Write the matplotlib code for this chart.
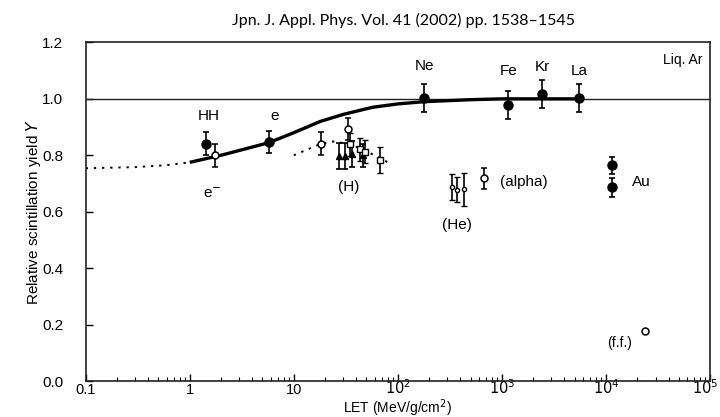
import numpy as np
import matplotlib.pyplot as plt
import matplotlib.transforms as mtransforms
from matplotlib.ticker import LogLocator, NullFormatter, FixedLocator

plt.rcParams['font.family'] = ['Liberation Sans', 'DejaVu Sans']

# ---- data ----
# heavy ions / e / HH (filled circles)
filled_x = [1.42, 5.8, 179, 1150, 2440, 5500, 11500, 11500]
filled_y = [0.841, 0.847, 1.004, 0.977, 1.016, 1.004, 0.765, 0.686]
filled_err = [0.04, 0.04, 0.05, 0.05, 0.05, 0.05, 0.03, 0.035]

# open circles (e-, H, alpha, f.f.)
open_x = [1.74, 18.4, 33.3, 676, 24000]
open_y = [0.80, 0.841, 0.893, 0.719, 0.176]
open_err = [0.04, 0.04, 0.04, 0.037, 0.0]

# proton triangles
tri_x = [27.3, 31.0, 36.6, 46.0]
tri_y = [0.798, 0.798, 0.805, 0.80]
tri_err = [0.045, 0.045, 0.045, 0.04]

# proton squares
sq_x = [35.0, 43.0, 48.0, 67.0]
sq_y = [0.839, 0.821, 0.813, 0.783]
sq_err = [0.04, 0.04, 0.04, 0.045]

# helium (small open circles)
he_x = [333, 372, 437]
he_y = [0.688, 0.678, 0.679]
he_err = [0.045, 0.045, 0.058]

# model curves
curve_x = [1, 2, 5.8, 10, 18, 30, 57, 100, 180, 500, 1000, 5500]
curve_y = [0.775, 0.80, 0.845, 0.88, 0.92, 0.945, 0.97, 0.982, 0.99, 0.997, 1.0, 1.0]
dot1_x = [0.1, 0.3, 0.6, 1.0]
dot1_y = [0.754, 0.758, 0.765, 0.775]
dot2_x = [10, 18, 25, 40, 60, 85]
dot2_y = [0.80, 0.84, 0.85, 0.83, 0.80, 0.77]

xtick_vals = [0.1, 1, 10, 100, 1000, 1e4, 1e5]
xtick_labels = ['0.1', '1', '10', r'$10^2$', r'$10^3$', r'$10^4$', r'$10^5$']

fig = plt.figure(figsize=(7.2, 4.17), dpi=100)
ax = fig.add_axes([0.119, 0.0863, 0.867, 0.812])

ax.axhline(1.0, color='#222222', lw=1.0)
ax.plot(curve_x, curve_y, color='black', lw=2.4, solid_capstyle='butt')
ax.plot(dot1_x, dot1_y, color='black', lw=1.4, ls=(0, (1.2, 3)))
ax.plot(dot2_x, dot2_y, color='black', lw=1.4, ls=(0, (1.2, 3)))

eb = dict(ecolor='black', elinewidth=1.2, capsize=2.5, capthick=1.2, ls='none')
ax.errorbar(filled_x, filled_y, yerr=filled_err, fmt='o', ms=6.5,
            mfc='black', mec='black', **eb)
ax.errorbar(open_x, open_y, yerr=open_err, fmt='o', ms=5,
            mfc='white', mec='black', mew=1.1, **eb)
ax.errorbar(tri_x, tri_y, yerr=tri_err, fmt='^', ms=4,
            mfc='black', mec='black', **eb)
ax.errorbar(sq_x, sq_y, yerr=sq_err, fmt='s', ms=4,
            mfc='white', mec='black', mew=1.0, **eb)
ax.errorbar(he_x, he_y, yerr=he_err, fmt='o', ms=3,
            mfc='white', mec='black', mew=1.0, **eb)

# labels
fs = 11
ax.text(1.52, 0.94, 'HH', ha='center', va='center', fontsize=fs)
ax.text(6.5, 0.94, 'e', ha='center', va='center', fontsize=fs)
ax.text(1.66, 0.665, r'e$^{-}$', ha='center', va='center', fontsize=fs)
ax.text(179, 1.115, 'Ne', ha='center', va='center', fontsize=fs)
ax.text(1150, 1.098, 'Fe', ha='center', va='center', fontsize=fs)
ax.text(2440, 1.112, 'Kr', ha='center', va='center', fontsize=fs)
ax.text(5500, 1.098, 'La', ha='center', va='center', fontsize=fs)
ax.text(34, 0.688, '(H)', ha='center', va='center', fontsize=fs)
ax.text(370, 0.554, '(He)', ha='center', va='center', fontsize=fs)
ax.text(950, 0.704, '(alpha)', ha='left', va='center', fontsize=fs)
ax.text(18000, 0.704, 'Au', ha='left', va='center', fontsize=fs)
ax.text(13500, 0.134, '(f.f.)', ha='center', va='center', fontsize=10)
ax.text(0.988, 0.947, 'Liq. Ar', transform=ax.transAxes, ha='right',
        va='center', fontsize=10)

ax.set_xscale('log')
ax.set_xlim(0.1, 1e5)
ax.set_ylim(0.0, 1.2)
ax.xaxis.set_major_locator(FixedLocator(xtick_vals))
ax.set_xticklabels(xtick_labels)
ax.xaxis.set_minor_locator(LogLocator(base=10, subs=np.arange(2, 10), numticks=20))
ax.xaxis.set_minor_formatter(NullFormatter())
ax.set_yticks([0.0, 0.2, 0.4, 0.6, 0.8, 1.0, 1.2])
ax.set_yticklabels(['0.0', '0.2', '0.4', '0.6', '0.8', '1.0', '1.2'])
ax.tick_params(axis='both', which='major', direction='in', length=5, width=1)
ax.tick_params(axis='y', which='major', pad=16, labelsize=11)
ax.tick_params(axis='x', which='major', pad=9.5, labelsize=10.5)
ax.tick_params(axis='x', which='minor', direction='in', length=3, width=0.8)
xlabs = ax.get_xticklabels()
for lab in xlabs:
    lab.set_verticalalignment('baseline')
# pull the last label in a little so it stays on the canvas
shift = mtransforms.ScaledTranslation(-5 / 100, 0, fig.dpi_scale_trans)
xlabs[-1].set_transform(xlabs[-1].get_transform() + shift)
for s in ax.spines.values():
    s.set_linewidth(1.2)
    s.set_color('#222222')

ax.set_xlabel(r'LET (MeV/g/cm$^2$)', fontsize=10)
ax.xaxis.set_label_coords(0.5, -0.093)
ax.xaxis.label.set_verticalalignment('baseline')
ax.set_ylabel('Relative scintillation yield $Y$', fontsize=11)
ax.yaxis.set_label_coords(-0.068, 0.5)

fig.text(0.56, 0.952, 'Jpn. J. Appl. Phys. Vol. 41 (2002) pp. 1538\u20131545',
         ha='center', va='center', fontsize=11.5, family='Lato')

fig.savefig('out.png', dpi=100)
